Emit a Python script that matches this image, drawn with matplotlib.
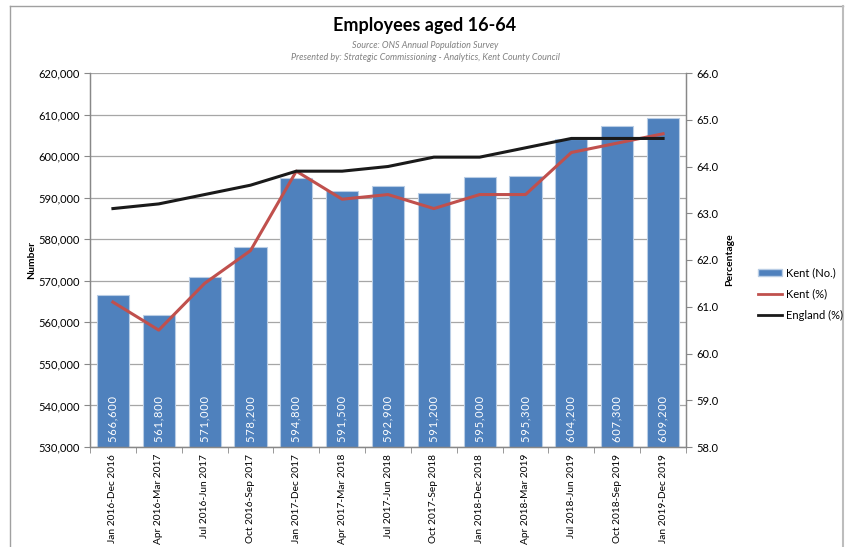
import numpy as np
import matplotlib
matplotlib.use("Agg")
import matplotlib.pyplot as plt
from matplotlib.lines import Line2D
from matplotlib.patches import Patch

plt.rcParams["font.family"] = ["Lato", "DejaVu Sans"]

# Data
periods = [
    "Jan 2016-Dec 2016", "Apr 2016-Mar 2017", "Jul 2016-Jun 2017", "Oct 2016-Sep 2017",
    "Jan 2017-Dec 2017", "Apr 2017-Mar 2018", "Jul 2017-Jun 2018", "Oct 2017-Sep 2018",
    "Jan 2018-Dec 2018", "Apr 2018-Mar 2019", "Jul 2018-Jun 2019", "Oct 2018-Sep 2019",
    "Jan 2019-Dec 2019",
]
kent_no = [566600, 561800, 571000, 578200, 594800, 591500, 592900,
           591200, 595000, 595300, 604200, 607300, 609200]
kent_pct = [61.1, 60.5, 61.5, 62.2, 63.9, 63.3, 63.4, 63.1, 63.4, 63.4, 64.3, 64.5, 64.7]
england_pct = [63.1, 63.2, 63.4, 63.6, 63.9, 63.9, 64.0, 64.2, 64.2, 64.4, 64.6, 64.6, 64.6]

W, H = 847, 547
fig = plt.figure(figsize=(W / 100, H / 100), dpi=100)
ax = fig.add_axes([90 / W, 1 - 447 / H, 596 / W, 374 / H])
ax2 = ax.twinx()

x = np.arange(len(periods))
bar_col = "#4F81BD"
ax.bar(x, kent_no, width=0.7, color=bar_col, edgecolor="#B9CDE5", linewidth=0.8, zorder=2)
ax.set_ylim(530000, 620000)
ax.set_xlim(-0.5, len(periods) - 0.5)
ax.set_yticks(np.arange(530000, 620001, 10000))
ax.yaxis.set_major_formatter(matplotlib.ticker.FuncFormatter(lambda v, p: f"{int(v):,}"))
ax.grid(axis="y", color="#a6a6a6", linewidth=0.9, zorder=0)
ax.set_axisbelow(True)

hs = "\u200a"
for xi, v in zip(x, kent_no):
    ax.text(xi, 531300, hs.join(f"{v:,}"), rotation=90, ha="center", va="bottom",
            color="white", fontsize=8, zorder=3)

ax.set_xticks(x)
ax.set_xticklabels(periods, rotation=90, fontsize=7.3)
ax.set_xticks(np.arange(-0.5, len(periods)), minor=True)
ax.tick_params(axis="x", which="major", length=0, pad=5)
ax.tick_params(axis="x", which="minor", length=4, color="#888888")
ax.tick_params(axis="y", labelsize=8, length=4, color="#888888")

ax2.plot(x, kent_pct, color="#C0504D", linewidth=2.2, zorder=4)
ax2.plot(x, england_pct, color="#1a1a1a", linewidth=2.2, zorder=4)
ax2.set_ylim(58, 66)
ax2.set_yticks(np.arange(58, 66.1, 1))
ax2.yaxis.set_major_formatter(matplotlib.ticker.FormatStrFormatter("%.1f"))
ax2.tick_params(axis="y", labelsize=8, length=4, color="#888888")

for a in (ax, ax2):
    a.spines["top"].set_visible(False)
    for s in ("left", "right", "bottom"):
        a.spines[s].set_color("#888888")
        a.spines[s].set_linewidth(0.9)

ax.set_ylabel("Number", fontsize=7.5, fontweight="bold", labelpad=1)
ax2.set_ylabel("Percentage", fontsize=7.5, fontweight="bold", labelpad=5)

fig.text(425 / W, 1 - 25 / H, "Employees aged 16-64", ha="center", va="center",
         fontsize=13, fontweight="bold")
fig.text(425 / W, 1 - 46 / H, "Source: ONS Annual Population Survey", ha="center",
         va="center", fontsize=6.5, style="italic", color="#808080")
fig.text(425 / W, 1 - 57 / H,
         "Presented by: Strategic Commissioning - Analytics, Kent County Council",
         ha="center", va="center", fontsize=6.5, style="italic", color="#808080")

handles = [
    Patch(facecolor=bar_col, edgecolor="#B9CDE5"),
    Line2D([], [], color="#C0504D", linewidth=2),
    Line2D([], [], color="#1a1a1a", linewidth=2),
]
fig.legend(handles, ["Kent (No.)", "Kent (%)", "England (%)"], loc="center left",
           bbox_to_anchor=(748 / W, 1 - 294 / H), frameon=False, fontsize=8,
           handlelength=2.2, handletextpad=0.3, labelspacing=0.9)

# outer chart frame
fig.add_artist(Line2D([10 / W, 10 / W], [0, 1 - 6 / H], color="#a0a0a0", linewidth=1))
fig.add_artist(Line2D([10 / W, 843 / W], [1 - 6 / H, 1 - 6 / H], color="#a0a0a0", linewidth=1))
fig.add_artist(Line2D([843 / W, 843 / W], [0, 1 - 6 / H], color="#bdbdbd", linewidth=1.5))

fig.savefig("out.png", dpi=100)
